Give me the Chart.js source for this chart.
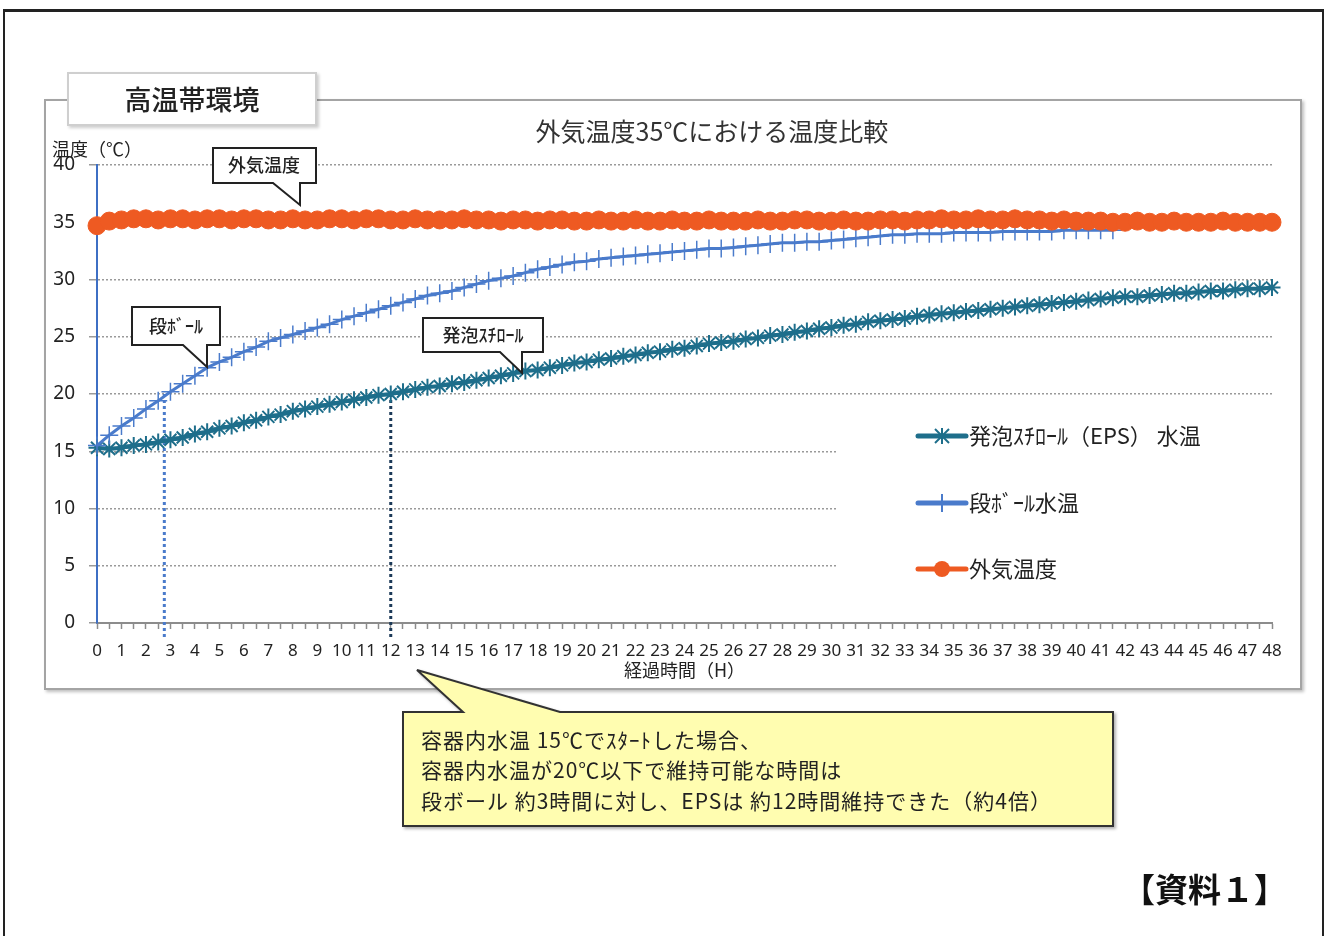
<!DOCTYPE html>
<html lang="ja">
<head>
<meta charset="UTF-8">
<title>外気温度35℃における温度比較</title>
<script src="https://cdn.jsdelivr.net/npm/chart.js"></script>
<style>
  body {
    margin: 0;
    width: 1330px;
    height: 936px;
    position: relative;
    overflow: hidden;
    background: #fff;
    font-family: "Noto Sans CJK JP", "Noto Sans", sans-serif;
    color: #222;
  }
  #outer {
    position: absolute;
    left: 3px; top: 9px;
    width: 1317px; height: 960px;
    border: 2px solid #222;
    border-top-width: 3px;
  }
  #frame {
    position: absolute;
    left: 44px; top: 99px;
    width: 1254px; height: 587px;
    border: 2px solid #a4a4a4;
    box-shadow: 2px 2px 3px rgba(0,0,0,0.25);
  }
  #chartWrap {
    position: absolute;
    left: 46px; top: 101px;
    width: 1253px; height: 586px;
  }
  #tag {
    position: absolute;
    left: 67px; top: 72px;
    width: 246px; height: 50px;
    border: 2px solid #cfcfcf;
    background: #fff;
    box-shadow: 2px 2px 3px rgba(0,0,0,0.2);
    font-size: 27px;
    line-height: 50px;
    text-align: center;
    font-weight: 500;
  }
  #overlay {
    position: absolute;
    left: 0; top: 0;
    pointer-events: none;
  }
  #doc {
    position: absolute;
    left: 1122px; top: 864px;
    font-size: 33px;
    font-weight: bold;
    color: #111;
  }
</style>
</head>
<body>
<div id="outer"></div>
<div id="frame"></div>
<div id="chartWrap"><canvas id="tempChart"></canvas></div>
<div id="tag">高温帯環境</div>

<svg id="overlay" width="1330" height="936" xmlns="http://www.w3.org/2000/svg"
     font-family="Noto Sans CJK JP, Noto Sans, sans-serif">
  <defs>
    <filter id="sh" x="-5%" y="-5%" width="110%" height="120%">
      <feDropShadow dx="2" dy="2" stdDeviation="1.5" flood-opacity="0.3"/>
    </filter>
  </defs>

  <!-- chart title and y axis title -->
  <text id="chartTitle" x="712" y="141" font-size="25" text-anchor="middle" fill="#333"></text>
  <text id="yTitle" x="52" y="156" font-size="18" fill="#222"></text>

  <!-- callouts -->
  <path d="M213,148 H316 V183 H300 V205 L273,183 H213 Z" fill="#fff" stroke="#222" stroke-width="2"/>
  <text x="264" y="172" font-size="18" font-weight="500" text-anchor="middle" fill="#222">外気温度</text>

  <path d="M132,307 H220 V345 H207 V367 L183,345 H132 Z" fill="#fff" stroke="#222" stroke-width="2"/>
  <text x="176" y="333" font-size="18" font-weight="500" text-anchor="middle" fill="#222">段ﾎﾞｰﾙ</text>

  <path d="M423,318 H543 V352 H522 V373 L500,352 H423 Z" fill="#fff" stroke="#222" stroke-width="2"/>
  <text x="483" y="342" font-size="18" font-weight="500" text-anchor="middle" fill="#222">発泡ｽﾁﾛｰﾙ</text>

  <!-- legend -->
  <rect x="836" y="418" width="442" height="202" fill="#fff"/>
  <line x1="918" y1="436" x2="966" y2="436" stroke="#1E6E8B" stroke-width="5" stroke-linecap="round"/>
  <g stroke="#1E6E8B" stroke-width="2">
    <line x1="942" y1="428" x2="942" y2="444"/>
    <line x1="935" y1="429" x2="949" y2="443"/>
    <line x1="949" y1="429" x2="935" y2="443"/>
  </g>
  <text x="969" y="444" font-size="22" fill="#222">発泡ｽﾁﾛｰﾙ（EPS） 水温</text>

  <line x1="918" y1="503" x2="966" y2="503" stroke="#4A7BCB" stroke-width="5" stroke-linecap="round"/>
  <line x1="942" y1="494" x2="942" y2="512" stroke="#4A7BCB" stroke-width="2"/>
  <text x="969" y="511" font-size="22" fill="#222">段ﾎﾞｰﾙ水温</text>

  <line x1="918" y1="569" x2="966" y2="569" stroke="#EE5A22" stroke-width="5" stroke-linecap="round"/>
  <circle cx="942" cy="569" r="8" fill="#EE5A22"/>
  <text x="969" y="577" font-size="22" fill="#222">外気温度</text>

  <!-- note -->
  <path d="M403,712 H463 L417,670 L560,712 H1113 V826 H403 Z" fill="#FFFDB0" stroke="#333" stroke-width="2" filter="url(#sh)"/>
  <g font-size="21" letter-spacing="1" fill="#222">
    <text x="421" y="748">容器内水温  15℃でｽﾀｰﾄした場合、</text>
    <text x="421" y="778">容器内水温が20℃以下で維持可能な時間は</text>
    <text x="421" y="809">段ボール 約3時間に対し、EPSは 約12時間維持できた（約4倍）</text>
  </g>
</svg>

<div id="doc">【資料１】</div>

<script>
const chartTitle = '外気温度35℃における温度比較';
const yTitle = '温度（℃）';
const xTitle = '経過時間（H）';
const seriesNames = ['発泡ｽﾁﾛｰﾙ（EPS） 水温', '段ﾎﾞｰﾙ水温', '外気温度'];

// elapsed hours, one reading every 30 minutes
const hours = [
  0, 0.5, 1, 1.5, 2, 2.5, 3, 3.5, 4, 4.5,
  5, 5.5, 6, 6.5, 7, 7.5, 8, 8.5, 9, 9.5,
  10, 10.5, 11, 11.5, 12, 12.5, 13, 13.5, 14, 14.5,
  15, 15.5, 16, 16.5, 17, 17.5, 18, 18.5, 19, 19.5,
  20, 20.5, 21, 21.5, 22, 22.5, 23, 23.5, 24, 24.5,
  25, 25.5, 26, 26.5, 27, 27.5, 28, 28.5, 29, 29.5,
  30, 30.5, 31, 31.5, 32, 32.5, 33, 33.5, 34, 34.5,
  35, 35.5, 36, 36.5, 37, 37.5, 38, 38.5, 39, 39.5,
  40, 40.5, 41, 41.5, 42, 42.5, 43, 43.5, 44, 44.5,
  45, 45.5, 46, 46.5, 47, 47.5, 48
];

const epsTemp = [
  15.3, 15.2, 15.3, 15.5, 15.6, 15.8, 16.0, 16.2, 16.5, 16.7,
  17.0, 17.2, 17.5, 17.7, 18.0, 18.2, 18.5, 18.7, 18.9, 19.1,
  19.3, 19.5, 19.7, 19.9, 20.0, 20.2, 20.4, 20.6, 20.7, 20.9,
  21.0, 21.2, 21.4, 21.6, 21.8, 22.0, 22.1, 22.3, 22.5, 22.7,
  22.8, 23.0, 23.1, 23.3, 23.4, 23.6, 23.7, 23.9, 24.0, 24.2,
  24.4, 24.5, 24.6, 24.8, 24.9, 25.1, 25.2, 25.4, 25.5, 25.7,
  25.8, 26.0, 26.1, 26.3, 26.4, 26.5, 26.6, 26.8, 26.9, 27.0,
  27.1, 27.2, 27.3, 27.4, 27.5, 27.6, 27.7, 27.8, 27.9, 28.0,
  28.1, 28.2, 28.3, 28.4, 28.5, 28.5, 28.6, 28.7, 28.8, 28.8,
  28.9, 29.0, 29.0, 29.1, 29.2, 29.2, 29.3
];

const boxTemp = [
  15.5, 16.4, 17.2, 17.9, 18.7, 19.4, 20.2, 20.9, 21.6, 22.3,
  22.8, 23.2, 23.7, 24.1, 24.6, 24.9, 25.2, 25.5, 25.8, 26.1,
  26.5, 26.8, 27.1, 27.4, 27.7, 28.0, 28.3, 28.6, 28.8, 29.0,
  29.3, 29.6, 29.9, 30.1, 30.3, 30.6, 30.9, 31.1, 31.3, 31.5,
  31.6, 31.8, 31.9, 32.0, 32.1, 32.2, 32.3, 32.4, 32.5, 32.6,
  32.7, 32.7, 32.8, 32.9, 33.0, 33.1, 33.2, 33.2, 33.3, 33.3,
  33.4, 33.5, 33.6, 33.7, 33.8, 33.9, 33.9, 34.0, 34.0, 34.0,
  34.1, 34.1, 34.1, 34.1, 34.2, 34.2, 34.2, 34.2, 34.2, 34.3,
  34.3, 34.3, 34.3, 34.3, null, null, null, null, null, null,
  null, null, null, null, null, null, null
];

const airTemp = [
  34.7, 35.1, 35.2, 35.3, 35.3, 35.2, 35.3, 35.3, 35.2, 35.3,
  35.3, 35.2, 35.3, 35.3, 35.2, 35.2, 35.3, 35.2, 35.2, 35.3,
  35.3, 35.2, 35.3, 35.3, 35.2, 35.2, 35.3, 35.2, 35.2, 35.2,
  35.3, 35.2, 35.2, 35.1, 35.2, 35.2, 35.1, 35.2, 35.2, 35.1,
  35.1, 35.2, 35.1, 35.1, 35.2, 35.1, 35.1, 35.2, 35.1, 35.1,
  35.2, 35.1, 35.1, 35.1, 35.2, 35.1, 35.1, 35.2, 35.2, 35.1,
  35.1, 35.2, 35.1, 35.1, 35.2, 35.2, 35.1, 35.2, 35.2, 35.3,
  35.2, 35.2, 35.3, 35.2, 35.2, 35.3, 35.2, 35.2, 35.1, 35.2,
  35.1, 35.1, 35.1, 35.0, 35.0, 35.1, 35.0, 35.0, 35.1, 35.0,
  35.0, 35.0, 35.1, 35.0, 35.0, 35.0, 35.0
];

// the 20℃ crossing times marked with dotted lines (段ボール ~3h, EPS ~12h)
const guideHours = [2.75, 12];
const guideColors = ['#4A7BCB', '#1C3A58'];
const guideTemp = 20;

const numFont = "'Noto Sans', 'Noto Sans CJK JP', sans-serif";
const jpFont = "'Noto Sans CJK JP', 'Noto Sans', sans-serif";

document.getElementById('chartTitle').textContent = chartTitle;
document.getElementById('yTitle').textContent = yTitle;

const guideLines = {
    id: 'guideLines',
    beforeDatasetsDraw(chart) {
        const ctx = chart.ctx;
        const x = chart.scales.x;
        const y = chart.scales.y;
        guideHours.forEach((h, i) => {
            const px = x.getPixelForValue(h * 2);
            ctx.save();
            ctx.strokeStyle = guideColors[i];
            ctx.lineWidth = 3;
            ctx.setLineDash([3, 3]);
            ctx.beginPath();
            ctx.moveTo(px, y.getPixelForValue(guideTemp));
            ctx.lineTo(px, chart.chartArea.bottom + 17);
            ctx.stroke();
            ctx.restore();
        });
    }
};

new Chart(document.getElementById('tempChart'), {
    type: 'line',
    data: {
        labels: hours,
        datasets: [
            {
                label: seriesNames[0],
                data: epsTemp,
                borderColor: '#1E6E8B',
                backgroundColor: '#1E6E8B',
                borderWidth: 4,
                pointStyle: 'star',
                pointRadius: 8.5,
                pointBorderWidth: 2,
                order: 3
            },
            {
                label: seriesNames[1],
                data: boxTemp,
                borderColor: '#4A7BCB',
                backgroundColor: '#4A7BCB',
                borderWidth: 3,
                pointStyle: 'cross',
                pointRadius: 9,
                pointBorderWidth: 1.5,
                spanGaps: false,
                order: 2
            },
            {
                label: seriesNames[2],
                data: airTemp,
                borderColor: '#EE5A22',
                backgroundColor: '#EE5A22',
                borderWidth: 3,
                pointStyle: 'circle',
                pointRadius: 9,
                pointBorderWidth: 1,
                order: 1
            }
        ]
    },
    options: {
        responsive: true,
        maintainAspectRatio: false,
        animation: false,
        layout: { padding: { left: 0, right: 27, top: 64, bottom: 0 } },
        plugins: {
            legend: { display: false },
            tooltip: { enabled: false },
            title: { display: false }
        },
        scales: {
            x: {
                type: 'category',
                offset: false,
                grid: {
                    display: true,
                    drawOnChartArea: false,
                    drawTicks: true,
                    tickLength: 6,
                    tickColor: '#8c8c8c',
                    tickWidth: 1.5
                },
                border: { color: '#8c8c8c', width: 2 },
                ticks: {
                    autoSkip: false,
                    maxRotation: 0,
                    minRotation: 0,
                    padding: 12,
                    color: '#222',
                    font: { family: numFont, size: 17 },
                    callback: (v, i) => hours[i] % 1 === 0 ? String(hours[i]) : ''
                },
                title: {
                    display: true,
                    text: xTitle,
                    color: '#222',
                    font: { family: jpFont, size: 18 },
                    padding: { top: 0, bottom: 6 }
                },
                afterFit: s => { s.height = 64; }
            },
            y: {
                min: 0,
                max: 40,
                ticks: {
                    stepSize: 5,
                    padding: 14,
                    color: '#222',
                    font: { family: numFont, size: 19 }
                },
                grid: { color: '#9a9a9a', lineWidth: 1.5, tickLength: 8 },
                border: { color: '#3E6FC4', width: 2, dash: [2, 2] },
                afterFit: s => { s.width = 51; }
            }
        }
    },
    plugins: [guideLines]
});
</script>
</body>
</html>
